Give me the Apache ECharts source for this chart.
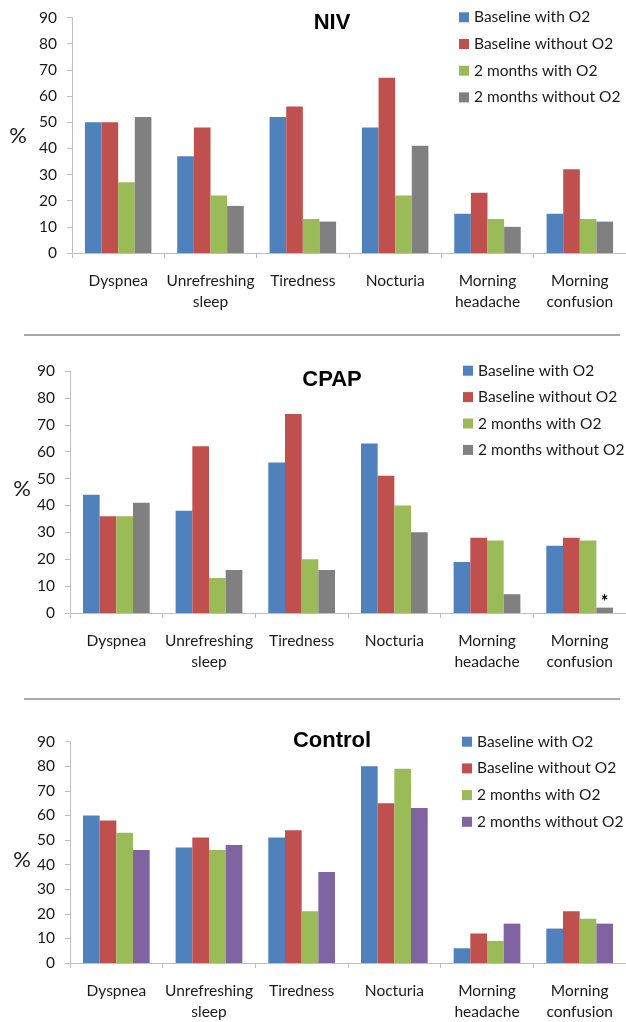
<!DOCTYPE html>
<html>
<head>
<meta charset="utf-8">
<script src="https://cdn.jsdelivr.net/npm/echarts@6/dist/echarts.min.js"></script>
<style>
  html, body { margin: 0; padding: 0; background: #fff; }
  #chart { width: 626px; height: 1022px; }
</style>
</head>
<body>
<div id="chart"></div>
<script>
// ---------- data ----------
const categories = ['Dyspnea', 'Unrefreshing\nsleep', 'Tiredness', 'Nocturia', 'Morning\nheadache', 'Morning\nconfusion'];
const seriesNames = ['Baseline with O2', 'Baseline without O2', '2 months with O2', '2 months without O2'];
const panelTitles = ['NIV', 'CPAP', 'Control'];
const yTicks = [0, 10, 20, 30, 40, 50, 60, 70, 80, 90];

const nivBaselineWith    = [50, 37, 52, 48, 15, 15];
const nivBaselineWithout = [50, 48, 56, 67, 23, 32];
const niv2mWith          = [27, 22, 13, 22, 13, 13];
const niv2mWithout       = [52, 18, 12, 41, 10, 12];

const cpapBaselineWith    = [44, 38, 56, 63, 19, 25];
const cpapBaselineWithout = [36, 62, 74, 51, 28, 28];
const cpap2mWith          = [36, 13, 20, 40, 27, 27];
const cpap2mWithout       = [41, 16, 16, 30, 7, 2];
const cpapMarks           = ['', '', '', '', '', '*'];

const ctrlBaselineWith    = [60, 47, 51, 80, 6, 14];
const ctrlBaselineWithout = [58, 51, 54, 65, 12, 21];
const ctrl2mWith          = [53, 46, 21, 79, 9, 18];
const ctrl2mWithout       = [46, 48, 37, 63, 16, 16];

// ---------- styling / layout ----------
const FONT = 'Lato, "Open Sans", sans-serif';
const FS = 15.5;
const TXT = '#1a1a1a';
const AX = '#bfbfbf';
const colorsA = ['#4F81BD', '#C0504D', '#9BBB59', '#808080'];
const colorsC = ['#4F81BD', '#C0504D', '#9BBB59', '#8064A2'];

const panels = [
  { data: [nivBaselineWith, nivBaselineWithout, niv2mWith, niv2mWithout], colors: colorsA,
    grid: { left: 72, top: 17.5, width: 558, height: 235.5 },
    titleX: 332, titleTop: 11.5, legendX: 459, legendTop: 9.3, legendGap: 10.7, pctX: 18, pctY: 136 },
  { data: [cpapBaselineWith, cpapBaselineWithout, cpap2mWith, cpap2mWithout], colors: colorsA,
    grid: { left: 70, top: 371, width: 560, height: 242 },
    titleX: 332, titleTop: 369, legendX: 463, legendTop: 362.7, legendGap: 10.4, pctX: 22, pctY: 489, marks: cpapMarks },
  { data: [ctrlBaselineWith, ctrlBaselineWithout, ctrl2mWith, ctrl2mWithout], colors: colorsC,
    grid: { left: 70, top: 741.7, width: 560, height: 225.3 },
    titleX: 332, titleTop: 729.5, legendX: 462, legendTop: 733.7, legendGap: 10.7, pctX: 22, pctY: 860 }
];

const option = {
  animation: false,
  backgroundColor: '#ffffff',
  textStyle: { fontFamily: FONT },
  grid: [], xAxis: [], yAxis: [], series: [], title: [], legend: [],
  graphic: []
};

panels.forEach((p, i) => {
  option.grid.push(p.grid);
  option.xAxis.push({
    type: 'category', gridIndex: i, data: categories,
    axisLine: { lineStyle: { color: AX, width: 1 } },
    axisTick: { show: true, length: 5, lineStyle: { color: AX } },
    axisLabel: { interval: 0, margin: 17, color: TXT, fontSize: FS, lineHeight: 21, fontFamily: FONT }
  });
  option.yAxis.push({
    type: 'value', gridIndex: i, min: yTicks[0], max: yTicks[yTicks.length - 1], interval: 10,
    axisLine: { show: true, lineStyle: { color: AX, width: 1 } },
    axisTick: { show: true, length: 5, lineStyle: { color: AX } },
    splitLine: { show: false },
    axisLabel: { margin: 15, color: TXT, fontSize: FS, fontFamily: FONT }
  });
  p.data.forEach((vals, k) => {
    const isLast = k === 3 && p.marks;
    option.series.push({
      type: 'bar', name: seriesNames[k], xAxisIndex: i, yAxisIndex: i,
      barGap: '0%', barCategoryGap: '28%',
      itemStyle: { color: p.colors[k] },
      data: vals.map((v, j) => (isLast && p.marks[j]) ? {
        value: v,
        label: { show: true, position: 'top', formatter: p.marks[j], color: '#000', fontSize: 18, fontWeight: 'bold', distance: -4 }
      } : v)
    });
  });
  option.title.push({
    text: panelTitles[i], left: p.titleX, top: p.titleTop, textAlign: 'center', padding: 0,
    textStyle: { fontFamily: '"Liberation Sans", Arial, sans-serif', fontWeight: 'bold', fontSize: 22, color: '#000' }
  });
  option.legend.push({
    orient: 'vertical', left: p.legendX, top: p.legendTop, itemGap: p.legendGap, padding: 0,
    itemWidth: 10, itemHeight: 10, icon: 'rect', itemStyle: { borderWidth: 0 },
    selectedMode: false,
    textStyle: { fontFamily: FONT, fontSize: FS, color: TXT, lineHeight: 16 },
    data: seriesNames.map((n, k) => ({ name: n, itemStyle: { color: p.colors[k] } }))
  });
  option.graphic.push({
    type: 'text', x: p.pctX, y: p.pctY,
    style: { text: '%', fill: TXT, font: '22px ' + FONT, textAlign: 'center', textVerticalAlign: 'middle' }
  });
});

// separator lines between panels
option.graphic.push(
  { type: 'line', shape: { x1: 24, y1: 335, x2: 620, y2: 335 }, style: { stroke: '#8c8c8c', lineWidth: 1.5 } },
  { type: 'line', shape: { x1: 24, y1: 699, x2: 620, y2: 699 }, style: { stroke: '#8c8c8c', lineWidth: 1.5 } }
);

const chart = echarts.init(document.getElementById('chart'), null, { renderer: 'canvas' });
chart.setOption(option);
</script>
</body>
</html>
